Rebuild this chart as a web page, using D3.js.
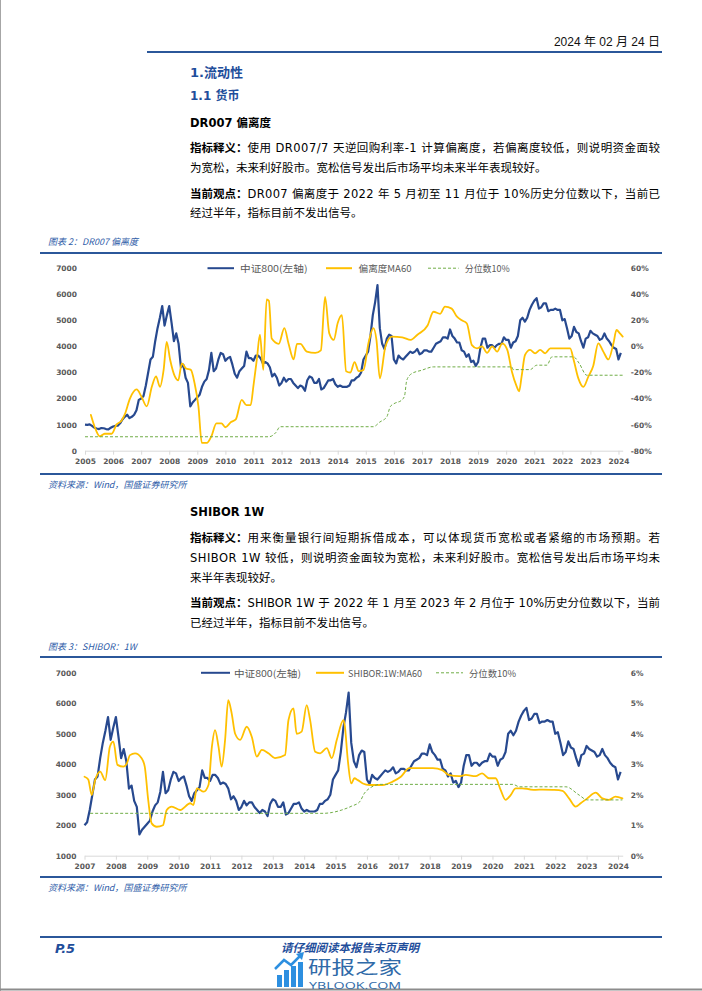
<!DOCTYPE html>
<html><head><meta charset="utf-8">
<script src="https://cdn.jsdelivr.net/npm/d3@7"></script>
<style>body{margin:0;background:#fff}svg{display:block}</style>
</head><body>
<svg id="c" width="702" height="991"></svg>
<script>
// ---------------- DATA ----------------
const csiStartYear = 2005; // monthly values from Jan 2005
const csi800 = [
 1000, 990,1010, 950, 880, 850, 830, 870, 860, 830, 820, 880,
  930, 950, 960,1050,1200,1300,1380,1250,1300,1380,1550,1950,
 2000,2100,2500,3000,3500,3600,4200,4700,5100,5550,4800,5200,
 5550,4900,4200,4500,4100,3200,3300,2800,2600,1700,1850,1950,
 2050,2150,2450,2650,2750,3100,3750,3050,3150,3500,3750,3700,
 3450,3550,3600,3300,2950,2800,3050,3150,3250,3800,3550,3550,
 3450,3650,3650,3550,3350,3400,3350,3200,2850,2950,2800,2500,
 2600,2800,2650,2750,2750,2600,2500,2400,2500,2450,2300,2700,
 2850,2800,2600,2600,2750,2350,2400,2550,2700,2700,2750,2550,
 2450,2500,2450,2450,2450,2500,2700,2700,2800,2850,3000,3500,
 3650,3800,4400,5200,5700,6350,4700,4100,3900,4300,4450,4400,
 3500,3350,3650,3550,3500,3600,3700,3800,3750,3800,3900,3700,
 3750,3850,3850,3800,3800,3950,4100,4150,4200,4350,4350,4300,
 4650,4400,4300,4150,4150,3850,3800,3600,3700,3400,3450,3250,
 3400,3950,4300,4300,3950,4050,4050,3950,4050,4100,4100,4350,
 4250,4250,3950,4150,4200,4400,5000,5100,4950,5100,5400,5600,
 5750,5850,5450,5500,5650,5650,5350,5400,5400,5450,5400,5400,
 5000,5050,4700,4300,4400,4750,4550,4500,4200,3950,4300,4350,
 4600,4500,4450,4400,4250,4300,4500,4300,4200,4050,3950,3900,
 3500,3750
];

// DR007 deviation MA60 (%)
const devYears = [2005.21,2005.35,2005.53,2005.7,2005.95,2006.12,2006.3,2006.42,2006.6,2006.84,2007.0,2007.2,2007.38,2007.53,2007.67,2007.8,2007.91,2008.03,2008.2,2008.32,2008.45,2008.6,2008.77,2008.9,2009.04,2009.16,2009.34,2009.5,2009.68,2009.86,2010.0,2010.2,2010.37,2010.58,2010.75,2010.9,2011.0,2011.12,2011.23,2011.35,2011.47,2011.55,2011.65,2011.9,2012.1,2012.25,2012.43,2012.55,2012.67,2012.9,2013.2,2013.4,2013.55,2013.7,2013.86,2014.0,2014.15,2014.3,2014.45,2014.6,2014.75,2014.92,2015.1,2015.27,2015.38,2015.5,2015.7,2015.93,2016.3,2016.6,2016.84,2017.2,2017.41,2017.65,2017.82,2018.06,2018.24,2018.42,2018.6,2018.78,2018.96,2019.14,2019.32,2019.5,2019.68,2019.86,2020.04,2020.2,2020.38,2020.46,2020.55,2020.67,2020.85,2021.03,2021.21,2021.39,2021.57,2021.8,2022.04,2022.28,2022.4,2022.57,2022.75,2022.93,2023.1,2023.28,2023.46,2023.64,2023.82,2023.93,2024.05,2024.15];
const devValues = [-52.6,-62,-69,-67,-67,-60,-57,-52,-40,-33,-38,-46,-31,-23,-31,-18,3.5,-10,-23,-26,-13,-17,-18,-28,-46,-74,-74,-69,-59,-59,-62,-58,-56,-41,-45,-45,-30,-10,9,-18,36,35,6,2,14,2,-10,2,2,-4,-5,-3,38,10,5,18,24,-19,-20,-12,-19,-18,3,14,5,-24.5,0,7.5,7,5,9,16,26.6,25,30.5,29,23,20,17.6,1,-1.5,0,-5,0,-4,2.4,-2.7,-19,-31,-34.5,-23,-6.6,-2.7,-5.3,-2.7,-5.3,-1.5,-1.5,-1.5,-1.5,-10,-24.5,-31,-23,-15,2.4,-4,-10,2.4,12.6,10,7.5];

// 10% percentile of DR007 deviation (%)
const devPctYears = [2005.0,2011.55,2011.8,2011.95,2015.27,2015.5,2015.75,2015.87,2016.0,2016.28,2016.38,2016.46,2016.64,2016.99,2017.41,2020.2,2020.25,2020.85,2021.09,2021.45,2021.63,2022.4,2022.6,2022.87,2024.15];
const devPctValues = [-69.3,-69.3,-66,-61.6,-61.6,-58,-54,-46.3,-44,-41.2,-38,-25.9,-20.8,-18.3,-15.7,-15.7,-17.8,-17.8,-14.4,-14.4,-8,-8,-13,-22.1,-22.1];

// SHIBOR 1W MA60 (%)
const shiborYears = [2007.0,2007.12,2007.23,2007.34,2007.5,2007.66,2007.81,2007.92,2008.05,2008.24,2008.35,2008.45,2008.61,2008.82,2008.92,2009.03,2009.14,2009.3,2009.5,2009.62,2009.78,2010.05,2010.37,2010.47,2010.58,2010.8,2010.95,2011.06,2011.16,2011.27,2011.37,2011.48,2011.58,2011.69,2011.8,2011.96,2012.17,2012.33,2012.49,2012.65,2012.86,2013.07,2013.39,2013.5,2013.66,2013.76,2013.92,2014.08,2014.19,2014.35,2014.51,2014.72,2014.88,2015.04,2015.25,2015.29,2015.39,2015.5,2015.6,2015.71,2015.87,2016.08,2016.5,2016.82,2017.08,2017.35,2017.67,2018.1,2018.4,2018.6,2018.94,2019.15,2019.46,2019.67,2019.89,2020.1,2020.26,2020.42,2020.58,2020.74,2020.95,2021.22,2021.38,2021.6,2021.91,2022.23,2022.44,2022.65,2022.81,2023.02,2023.29,2023.5,2023.71,2023.92,2024.14];
const shiborValues = [2.59,2.5,1.99,2.48,2.76,2.48,3.58,3.74,2.98,2.92,3.03,3.3,3.36,3.2,2.92,1.83,1.06,0.95,1.0,1.5,1.61,1.5,1.72,1.66,2.21,2.1,2.32,3.58,4.12,3.58,2.92,3.8,5.1,4.67,4.0,3.8,4.23,3.9,3.25,3.47,3.36,3.2,3.3,4.45,4.83,4.0,4.07,4.94,4.45,3.41,3.36,3.53,3.2,3.8,4.45,4.3,3.14,2.37,2.54,2.48,2.37,2.32,2.32,2.43,2.59,2.87,2.87,2.87,2.81,2.65,2.61,2.65,2.61,2.7,2.54,2.54,2.16,1.83,1.99,2.21,2.21,2.17,2.16,2.17,2.16,2.13,1.88,1.61,1.72,1.88,2.07,1.88,1.83,1.94,1.88];

// 10% percentile of SHIBOR 1W (%)
const shiborPctYears = [2007.18,2014.6,2014.9,2015.2,2015.5,2015.77,2015.92,2016.08,2016.24,2016.4,2020.65,2020.86,2022.34,2022.76,2023.02,2024.14];
const shiborPctValues = [1.39,1.39,1.42,1.5,1.62,1.77,2.05,2.21,2.3,2.34,2.34,2.26,2.26,1.99,1.83,1.83];

const leftTicks1 = [0,1000,2000,3000,4000,5000,6000,7000];
const rightTicks1 = [-80,-60,-40,-20,0,20,40,60];
const leftTicks2 = [1000,2000,3000,4000,5000,6000,7000];
const rightTicks2 = [0,1,2,3,4,5,6];

// ---------------- DRAW ----------------
const svg = d3.select("#c");
const RULE = "#2B579A", HEAD = "#1F4E9B", CAP = "#2E5CA8";
const NAVY = "#27498F", GOLD = "#FFC000", GREEN = "#70AD47", AX = "#595959";
const BODYF = "'DejaVu Sans','Noto Sans CJK SC',sans-serif";
const CJKF = "'Noto Sans CJK SC','DejaVu Sans',sans-serif";

function txt(x, y, s, o = {}) {
  const t = svg.append("text").attr("x", x).attr("y", y)
    .attr("dominant-baseline", "central").text(s)
    .attr("font-family", o.ff || BODYF).attr("font-size", o.fs || 11.5)
    .attr("fill", o.fill || "#000");
  if (o.fw) t.attr("font-weight", o.fw);
  if (o.it) t.attr("font-style", "italic");
  if (o.anchor) t.attr("text-anchor", o.anchor);
  if (o.len) t.attr("textLength", o.len).attr("lengthAdjust", "spacingAndGlyphs");
  return t;
}
function rule(x1, x2, y, w = 2, c = RULE) {
  svg.append("line").attr("x1", x1).attr("x2", x2).attr("y1", y).attr("y2", y)
    .attr("stroke", c).attr("stroke-width", w);
}
function pline(y, bold, rest, justify) {
  let x = 190;
  if (bold) {
    const b = txt(x, y, bold, { fw: "bold" });
    x += b.node().getComputedTextLength();
  }
  const t = txt(x, y, rest);
  if (justify) t.attr("textLength", 660 - x).attr("lengthAdjust", "spacing");
}

// page frame
svg.append("line").attr("x1", 0.5).attr("x2", 0.5).attr("y1", 0).attr("y2", 991).attr("stroke", "#a6a6a6");
svg.append("line").attr("x1", 0).attr("x2", 702).attr("y1", 989.5).attr("y2", 989.5).attr("stroke", "#8c8c8c").attr("stroke-width", 2);

// header
txt(660, 42, "2024 年 02 月 24 日", { ff: "'Liberation Sans','Noto Sans CJK SC'", fs: 12, anchor: "end", fill: "#111" });
rule(147, 662, 52);
txt(190, 72, "1.流动性", { fw: "bold", fs: 13, fill: HEAD });
txt(190, 96, "1.1 货币", { fw: "bold", fs: 12, fill: HEAD });
txt(190, 123, "DR007 偏离度", { fw: "bold", fs: 11.5 });
pline(148, "指标释义：", "使用 DR007/7 天逆回购利率-1 计算偏离度，若偏离度较低，则说明资金面较", true);
pline(168, null, "为宽松，未来利好股市。宽松信号发出后市场平均未来半年表现较好。", false);
pline(194, "当前观点：", "DR007 偏离度于 2022 年 5 月初至 11 月位于 10%历史分位数以下，当前已", true);
pline(213, null, "经过半年，指标目前不发出信号。", false);

txt(190, 512, "SHIBOR 1W", { fw: "bold", fs: 11.5 });
pline(538, "指标释义：", "用来衡量银行间短期拆借成本，可以体现货币宽松或者紧缩的市场预期。若", true);
pline(558, null, "SHIBOR 1W 较低，则说明资金面较为宽松，未来利好股市。宽松信号发出后市场平均未", true);
pline(578, null, "来半年表现较好。", false);
pline(603, "当前观点：", "SHIBOR 1W 于 2022 年 1 月至 2023 年 2 月位于 10%历史分位数以下，当前", true);
pline(623, null, "已经过半年，指标目前不发出信号。", false);

function chart(o) {
  const x = d3.scaleLinear().domain(o.xDom).range([o.x0, o.x1]);
  const yL = d3.scaleLinear().domain([o.lTicks[0], o.lTicks[o.lTicks.length - 1]]).range([o.yB, o.yT]);
  const yR = d3.scaleLinear().domain([o.rTicks[0], o.rTicks[o.rTicks.length - 1]]).range([o.yB, o.yT]);

  txt(48, o.capY, o.caption, { fs: 9, it: true, fill: CAP, ff: CJKF });
  rule(40, 662, o.ruleTop);
  rule(40, 662, o.ruleBot);
  txt(48, o.srcY, "资料来源：Wind，国盛证券研究所", { fs: 9, it: true, fill: CAP, ff: CJKF });

  const g = svg.append("g");
  const years = d3.range(Math.ceil(o.xDom[0]), 2025);
  const gx = g.append("g").attr("transform", `translate(0,${o.yB})`)
    .call(d3.axisBottom(x).tickValues(years).tickFormat(d3.format("d")).tickSize(4).tickSizeOuter(0).tickPadding(4));
  gx.select(".domain").attr("stroke", "#D9D9D9");
  gx.selectAll(".tick line").attr("stroke", "#D9D9D9");
  gx.selectAll("text").attr("font-family", "DejaVu Sans").attr("font-size", 7.5).attr("font-weight", "bold").attr("fill", AX);

  const gl = g.append("g").attr("transform", `translate(${o.x0},0)`)
    .call(d3.axisLeft(yL).tickValues(o.lTicks).tickFormat(d3.format("d")).tickSize(0).tickPadding(8));
  gl.select(".domain").remove();
  gl.selectAll("text").attr("font-family", "DejaVu Sans").attr("font-size", 7.5).attr("font-weight", "bold").attr("fill", AX);

  const gr = g.append("g").attr("transform", `translate(${o.x1},0)`)
    .call(d3.axisRight(yR).tickValues(o.rTicks).tickFormat(d => d + "%").tickSize(0).tickPadding(8));
  gr.select(".domain").remove();
  gr.selectAll("text").attr("font-family", "DejaVu Sans").attr("font-size", 7.5).attr("font-weight", "bold").attr("fill", AX);

  const csiPts = csi800.map((v, i) => [csiStartYear + i / 12, v]).filter(d => d[0] >= o.xDom[0]);
  const lineL = d3.line().x(d => x(d[0])).y(d => yL(d[1]));
  const lineR = d3.line().curve(d3.curveMonotoneX).x(d => x(d[0])).y(d => yR(d[1]));
  g.append("path").attr("d", lineL(csiPts)).attr("fill", "none").attr("stroke", NAVY)
    .attr("stroke-width", 2.2).attr("stroke-linejoin", "round");
  g.append("path").attr("d", lineR(d3.zip(o.yellowX, o.yellowY))).attr("fill", "none").attr("stroke", GOLD)
    .attr("stroke-width", 1.8).attr("stroke-linejoin", "round").attr("stroke-linecap", "round");
  g.append("path").attr("d", lineR(d3.zip(o.greenX, o.greenY)))
    .attr("fill", "none").attr("stroke", GREEN).attr("stroke-width", 1).attr("stroke-dasharray", "3,2");

  // legend
  const ly = o.yT;
  const L = o.legend;
  svg.append("line").attr("x1", L[0][0]).attr("x2", L[0][1]).attr("y1", ly).attr("y2", ly).attr("stroke", NAVY).attr("stroke-width", 2);
  txt(L[0][2], ly, "中证800(左轴)", { fs: 9.5, fill: AX, ff: CJKF, len: L[0][3] });
  svg.append("line").attr("x1", L[1][0]).attr("x2", L[1][1]).attr("y1", ly).attr("y2", ly).attr("stroke", GOLD).attr("stroke-width", 2);
  txt(L[1][2], ly, o.yellowName, { fs: 9.5, fill: AX, ff: CJKF, len: L[1][3] });
  svg.append("line").attr("x1", L[2][0]).attr("x2", L[2][1]).attr("y1", ly).attr("y2", ly).attr("stroke", GREEN).attr("stroke-width", 1).attr("stroke-dasharray", "3,2");
  txt(L[2][2], ly, "分位数10%", { fs: 9.5, fill: AX, ff: CJKF, len: L[2][3] });
}

chart({
  caption: "图表 2：DR007 偏离度", capY: 241, ruleTop: 253, ruleBot: 474, srcY: 484,
  xDom: [2005, 2024.15], x0: 85, x1: 622.7, yT: 268.2, yB: 450.7,
  lTicks: leftTicks1, rTicks: rightTicks1,
  yellowX: devYears, yellowY: devValues, greenX: devPctYears, greenY: devPctValues,
  yellowName: "偏离度MA60",
  legend: [[207.5, 234, 240, 67.5], [326, 352, 358.6, 53], [428, 458.6, 464.7, 45]]
});
chart({
  caption: "图表 3：SHIBOR：1W", capY: 646, ruleTop: 657, ruleBot: 877, srcY: 887,
  xDom: [2007, 2024.15], x0: 84.5, x1: 622.7, yT: 672.8, yB: 855.7,
  lTicks: leftTicks2, rTicks: rightTicks2,
  yellowX: shiborYears, yellowY: shiborValues, greenX: shiborPctYears, greenY: shiborPctValues,
  yellowName: "SHIBOR:1W:MA60",
  legend: [[201, 230, 234, 67], [316, 344, 348, 74], [436, 463, 469, 47]]
});

// footer
rule(40, 662, 937);
txt(55, 948, "P.5", { fw: "bold", it: true, fs: 13, fill: HEAD });
txt(350, 946.5, "请仔细阅读本报告末页声明", { fw: "bold", it: true, fs: 11.5, fill: HEAD, anchor: "middle", ff: CJKF });

// watermark
const wm = svg.append("g");
[[277, 975], [284, 970], [291, 966], [298, 962]].forEach(([bx, top]) =>
  wm.append("rect").attr("x", bx).attr("y", top).attr("width", 5).attr("height", 987 - top).attr("fill", "#2d8fe0"));
wm.append("polyline").attr("points", "275,969 284,960 291,965 301,955").attr("fill", "none")
  .attr("stroke", "#2d8fe0").attr("stroke-width", 2.5);
wm.append("path").attr("d", "M296,954 L304,952 L302,960 Z").attr("fill", "#2d8fe0");
txt(308, 965.5, "研报之家", { ff: CJKF, fs: 18.5, fill: "#2f6aa8", len: 94 });
txt(309, 985.5, "YBLOOK.COM", { ff: "'Open Sans','DejaVu Sans'", fs: 9, fill: "#2f6aa8", len: 92 });
</script>
</body></html>
